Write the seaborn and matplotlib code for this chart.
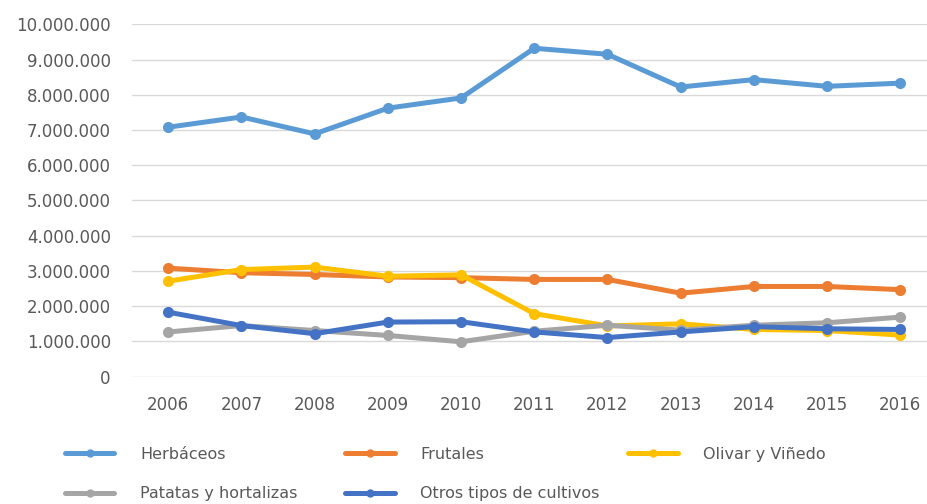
import pandas as pd
import matplotlib.pyplot as plt
import seaborn as sns
from matplotlib.ticker import FuncFormatter

# Datos (hectáreas aprox.)
years = [2006, 2007, 2008, 2009, 2010, 2011, 2012, 2013, 2014, 2015, 2016]
herbaceos = [7080000, 7370000, 6890000, 7620000, 7910000, 9320000, 9150000, 8220000, 8430000, 8240000, 8330000]
frutales = [3080000, 2950000, 2900000, 2830000, 2810000, 2760000, 2760000, 2370000, 2560000, 2560000, 2470000]
olivar = [2710000, 3040000, 3110000, 2850000, 2890000, 1790000, 1440000, 1500000, 1340000, 1310000, 1180000]
patatas = [1270000, 1450000, 1310000, 1170000, 990000, 1290000, 1460000, 1320000, 1460000, 1530000, 1690000]
otros = [1830000, 1450000, 1220000, 1550000, 1560000, 1270000, 1110000, 1270000, 1420000, 1360000, 1340000]

series = {
    "Herbáceos": herbaceos,
    "Frutales": frutales,
    "Olivar y Viñedo": olivar,
    "Patatas y hortalizas": patatas,
    "Otros tipos de cultivos": otros,
}
colors = {
    "Herbáceos": "#5B9BD5",
    "Frutales": "#ED7D31",
    "Olivar y Viñedo": "#FFC000",
    "Patatas y hortalizas": "#A5A5A5",
    "Otros tipos de cultivos": "#4472C4",
}

df = pd.concat(
    [pd.DataFrame({"Año": years, "Valor": v, "Cultivo": k}) for k, v in series.items()],
    ignore_index=True,
)

sns.set_style("white")
plt.rcParams['font.family'] = ['DejaVu Sans']

fig = plt.figure(figsize=(9.28, 5.04), dpi=100)
ax = fig.add_axes([0.1419, 0.2526, 0.8581, 0.6992])

sns.lineplot(data=df, x="Año", y="Valor", hue="Cultivo", palette=colors,
             marker="o", markersize=8, markeredgewidth=0, linewidth=3.6,
             ax=ax, legend=True)

ax.set_xlim(2005.5, 2016.38)
ax.set_ylim(0, 10000000)
ax.set_xticks(years)
ax.set_yticks(range(0, 10000001, 1000000))
ax.yaxis.set_major_formatter(FuncFormatter(lambda v, p: f"{int(v):,}".replace(",", ".")))
ax.grid(axis="y", color="#d9d9d9", linewidth=1)
ax.set_axisbelow(True)
for s in ax.spines.values():
    s.set_visible(False)
ax.set_xlabel("")
ax.set_ylabel("")
ax.tick_params(axis="y", length=0, pad=15, labelsize=12, labelcolor="#595959")
ax.tick_params(axis="x", length=0, pad=14, labelsize=12, labelcolor="#595959")

# leyenda: tres columnas, cada una como leyenda propia
handles, labels = ax.get_legend_handles_labels()
ax.get_legend().remove()
lk = dict(zip(labels, handles))
columnas = [
    (0.070, ["Herbáceos", "Patatas y hortalizas"]),
    (0.372, ["Frutales", "Otros tipos de cultivos"]),
    (0.677, ["Olivar y Viñedo"]),
]
for x0, labs in columnas:
    leg = fig.legend([lk[o] for o in labs], labs, loc="upper left",
                     bbox_to_anchor=(x0, 0.114), frameon=False, borderpad=0, borderaxespad=0,
                     handlelength=3.1, handletextpad=1.6, labelspacing=1.55,
                     prop={"size": 11.5}, labelcolor="#595959")
    for h in leg.legend_handles:
        h.set_markersize(6)

fig.savefig("out.png", dpi=100)
